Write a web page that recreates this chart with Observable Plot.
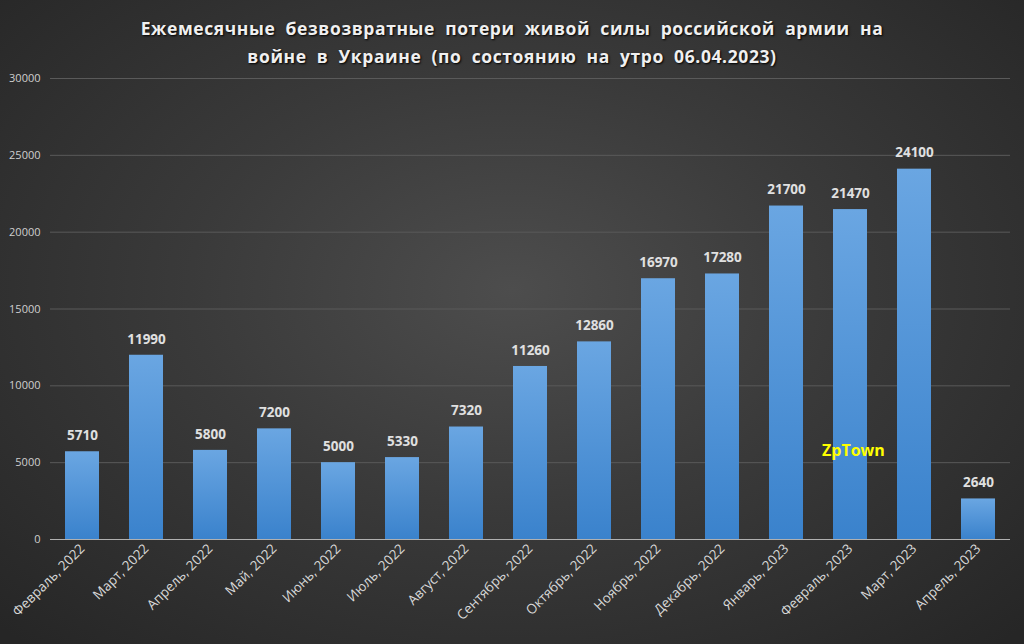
<!DOCTYPE html>
<html><head><meta charset="utf-8">
<script src="https://cdn.jsdelivr.net/npm/d3@7"></script>
<script src="https://cdn.jsdelivr.net/npm/@observablehq/plot@0.6"></script>
<style>
html,body{margin:0;padding:0;}
#wrap{position:relative;width:1024px;height:644px;overflow:hidden;
background:radial-gradient(ellipse 70% 75% at 50% 45%, #4d4d4d 0%, #3a3a3a 45%, #262626 100%);
font-family:"Open Sans",sans-serif;}
#title{position:absolute;left:0;top:14px;width:1024px;text-align:center;color:#f0f0f0;font-weight:bold;font-size:17.5px;line-height:28px;letter-spacing:0.6px;word-spacing:5px;text-shadow:1px 1px 2px #000;}
#wm{position:absolute;left:822px;top:439px;color:#ffff00;font-weight:bold;font-size:16px;font-family:"Open Sans",sans-serif;}
</style></head>
<body><div id="wrap"><div id="title">Ежемесячные безвозвратные потери живой силы российской армии на<br>войне в Украине (по состоянию на утро 06.04.2023)</div></div>
<script>
const months = ["Февраль, 2022","Март, 2022","Апрель, 2022","Май, 2022","Июнь, 2022","Июль, 2022","Август, 2022","Сентябрь, 2022","Октябрь, 2022","Ноябрь, 2022","Декабрь, 2022","Январь, 2023","Февраль, 2023","Март, 2023","Апрель, 2023"];
const losses = [5710,11990,5800,7200,5000,5330,7320,11260,12860,16970,17280,21700,21470,24100,2640];
const yTicks = [0,5000,10000,15000,20000,25000,30000];
const watermark = "ZpTown";
const data = months.map((m,i)=>({month:m, value:losses[i]}));

const chart = Plot.plot({
  width:1024, height:644,
  marginTop:78, marginBottom:105, marginLeft:50, marginRight:14,
  style:{background:"transparent", color:"#d0d0d0", fontFamily:"Open Sans, sans-serif"},
  x:{domain:months, paddingInner:0.47, paddingOuter:0.235, label:null, tickSize:0, tickRotate:-45, tickPadding:7},
  y:{domain:[0,30000], ticks:yTicks, label:null, tickSize:0, tickPadding:10, tickFormat:d=>String(d)},
  marks:[
    Plot.gridY(yTicks.filter(d=>d>0), {stroke:"#5a5a5a", strokeOpacity:1, strokeWidth:1}),
    Plot.barY(data, {x:"month", y:"value", fill:"url(#barGrad)"}),
    Plot.ruleY([0], {stroke:"#b0b0b0", strokeWidth:1}),
    Plot.text(data, {x:"month", y:"value", text:d=>String(d.value), dy:-16, fill:"#e0e0e0", fontWeight:"bold", fontSize:13.5})
  ]
});
const ns="http://www.w3.org/2000/svg";
const defs=document.createElementNS(ns,"defs");
defs.innerHTML='<linearGradient id="barGrad" x1="0" y1="0" x2="0" y2="1"><stop offset="0" stop-color="#6aa6e2"/><stop offset="1" stop-color="#3a82cc"/></linearGradient>';
chart.insertBefore(defs, chart.firstChild);
chart.style.position="absolute"; chart.style.left="0"; chart.style.top="0";
chart.querySelectorAll('[aria-label="x-axis tick label"] text').forEach(t=>{t.style.fontSize="13.5px"; t.setAttribute("fill","#d8d8d8");});
chart.querySelectorAll('[aria-label="y-axis tick label"] text').forEach(t=>{t.style.fontSize="11px"; t.setAttribute("fill","#cfcfcf");});
const wrap=document.getElementById("wrap");
wrap.appendChild(chart);
const wm=document.createElement("div"); wm.id="wm"; wm.textContent=watermark; wrap.appendChild(wm);
</script></body></html>
